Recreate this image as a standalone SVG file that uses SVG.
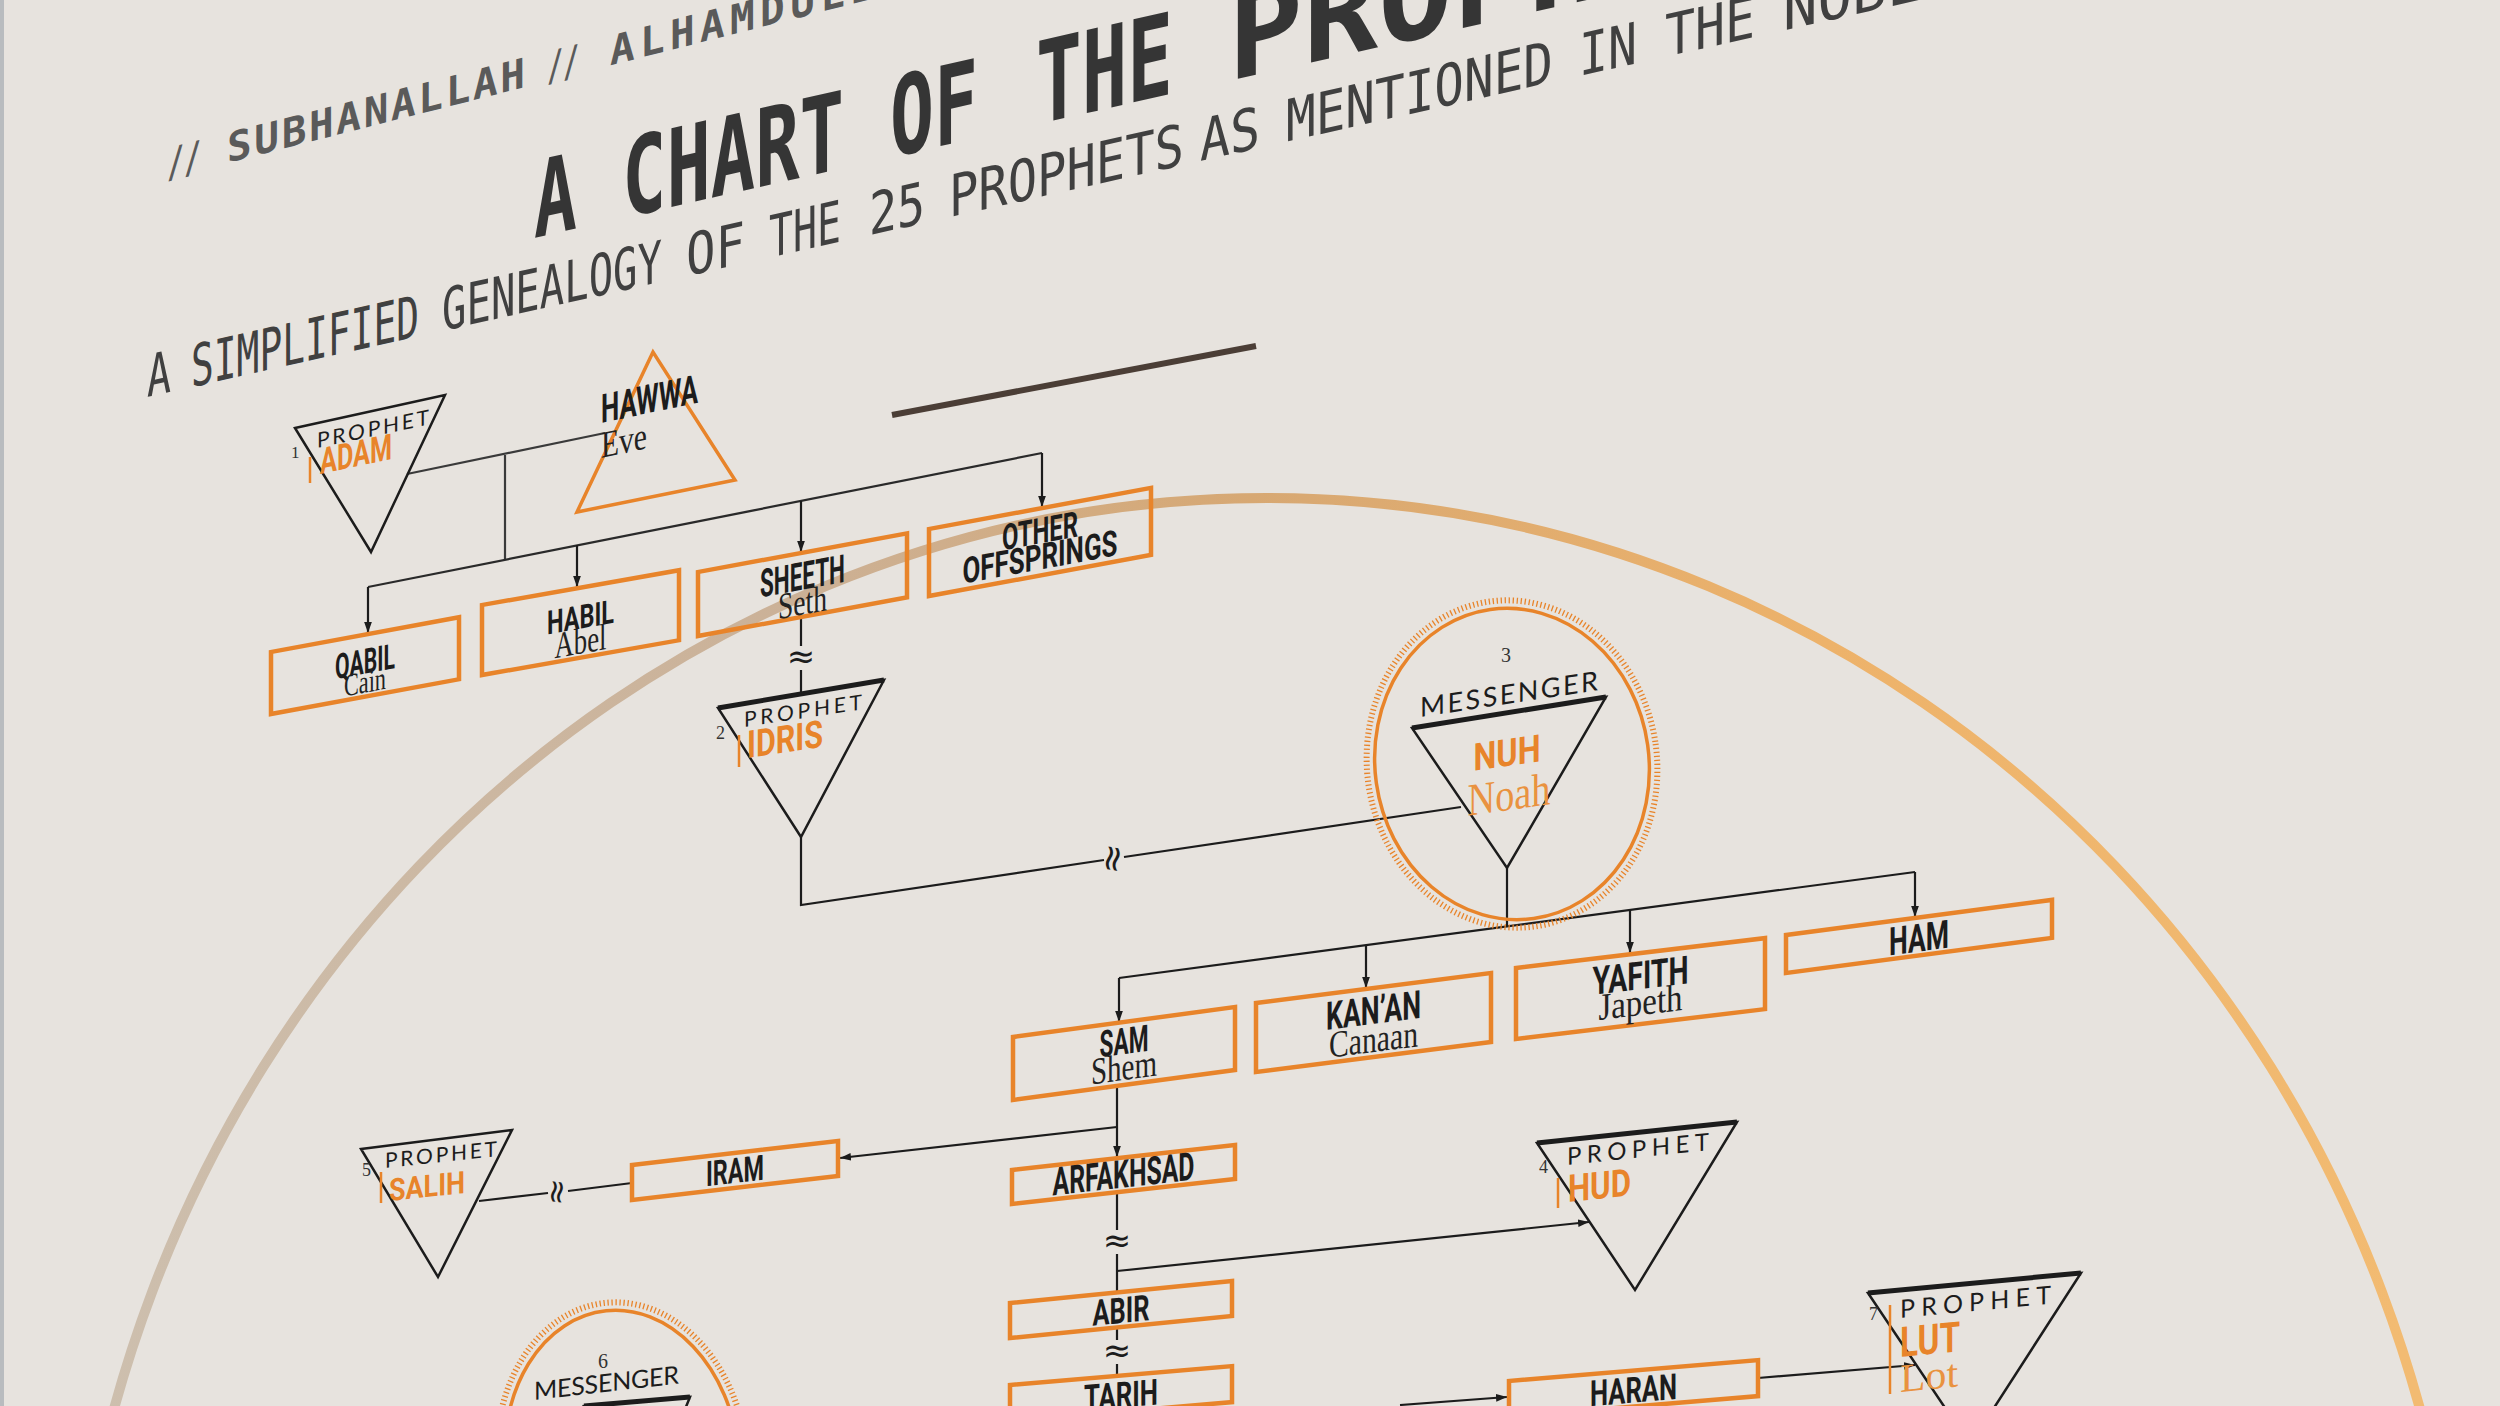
<svg xmlns="http://www.w3.org/2000/svg" width="2500" height="1406" viewBox="0 0 2500 1406">
<defs>
<linearGradient id="arcg" gradientUnits="userSpaceOnUse" x1="100" y1="0" x2="2400" y2="0">
<stop offset="0" stop-color="#cdbfae"/>
<stop offset="0.3" stop-color="#cbb197"/>
<stop offset="0.5" stop-color="#d7a873"/>
<stop offset="0.75" stop-color="#edb26a"/>
<stop offset="1" stop-color="#f2bb72"/>
</linearGradient>
<marker id="arr" viewBox="0 0 10 10" refX="10" refY="5" markerWidth="11" markerHeight="11" markerUnits="userSpaceOnUse" orient="auto"><path d="M0,1.5 L10,5 L0,8.5 z" fill="#1c1c1c"/></marker>
</defs>
<style>
.lbl{font-family:"Roboto","Liberation Sans",sans-serif;font-weight:700;fill:#1c1c1c;text-anchor:middle}
.ser{font-family:"Liberation Serif","DejaVu Serif",serif;fill:#222;text-anchor:middle}
.box{fill:none;stroke:#e8842a;stroke-width:4.5}
.tri{fill:none;stroke:#1c1c1c;stroke-width:2.5;stroke-linejoin:miter}
.top{stroke:#1c1c1c;stroke-width:5}
.ln{fill:none;stroke:#1c1c1c;stroke-width:2.2}
.pro{font-family:"Lato","Open Sans",sans-serif;fill:#1c1c1c}
.nm{font-family:"Roboto","Liberation Sans",sans-serif;font-weight:700;fill:#e8842a}
.nms{font-family:"Liberation Serif","DejaVu Serif",serif;fill:#e9923f}
.num{font-family:"Liberation Serif","DejaVu Serif",serif;fill:#333}
.sq{font-family:"DejaVu Sans",sans-serif;fill:#1c1c1c;text-anchor:middle;stroke:none}
.mono{font-family:"DejaVu Sans Mono",monospace}
.bar{stroke:#e8842a;stroke-width:2.5}
</style>
<rect x="0" y="0" width="2500" height="1406" fill="#e7e3de"/>
<rect x="0" y="0" width="4" height="1406" fill="#b9bcbf"/>
<ellipse id="arc" cx="1267" cy="1754" rx="1199" ry="1256" fill="none" stroke="url(#arcg)" stroke-width="10"/>

<g id="tagline" transform="translate(167,178) skewY(-14.25)" class="mono" font-weight="700" font-size="41" fill="#5a5a5a">
<text x="0" y="0" textLength="34" lengthAdjust="spacingAndGlyphs">//</text>
<text x="60" y="0" textLength="298" lengthAdjust="spacing">SUBHANALLAH</text>
<text x="380" y="0" textLength="32" lengthAdjust="spacingAndGlyphs">//</text>
<text x="443" y="0" textLength="385" lengthAdjust="spacing">ALHAMDULILLAH</text>
</g>
<g id="title" transform="translate(534,238) skewY(-12.74)" class="mono" font-weight="700" fill="#353535">
<text x="0" y="0" font-size="106" textLength="43" lengthAdjust="spacingAndGlyphs">A</text>
<text x="88" y="0" font-size="108" textLength="222" lengthAdjust="spacingAndGlyphs">CHART</text>
<text x="356" y="0" font-size="110" textLength="88" lengthAdjust="spacingAndGlyphs">OF</text>
<text x="502" y="0" font-size="114" textLength="137" lengthAdjust="spacingAndGlyphs">THE</text>
<text x="694" y="0" font-size="122" textLength="600" lengthAdjust="spacingAndGlyphs">PROPHETS</text>
</g>
<g id="subtitle" transform="translate(147,397) skewY(-12.63)" class="mono" fill="#404040" font-size="58">
<text x="0" y="0" textLength="24" lengthAdjust="spacingAndGlyphs">A</text>
<text x="44" y="0" textLength="228" lengthAdjust="spacingAndGlyphs">SIMPLIFIED</text>
<text x="295" y="0" textLength="220" lengthAdjust="spacingAndGlyphs">GENEALOGY</text>
<text x="539" y="0" textLength="59" lengthAdjust="spacingAndGlyphs">OF</text>
<text x="622" y="0" textLength="72" lengthAdjust="spacingAndGlyphs">THE</text>
<text x="722" y="0" textLength="56" lengthAdjust="spacingAndGlyphs">25</text>
<text x="802" y="0" textLength="235" lengthAdjust="spacingAndGlyphs">PROPHETS</text>
<text x="1053" y="0" textLength="60" lengthAdjust="spacingAndGlyphs">AS</text>
<text x="1139" y="0" textLength="267" lengthAdjust="spacingAndGlyphs">MENTIONED</text>
<text x="1432" y="0" textLength="58" lengthAdjust="spacingAndGlyphs">IN</text>
<text x="1518" y="0" textLength="90" lengthAdjust="spacingAndGlyphs">THE</text>
<text x="1636" y="0" textLength="380" lengthAdjust="spacingAndGlyphs">NOBLE QURAN</text>
</g>
<line id="separator" x1="892" y1="415" x2="1256" y2="346" stroke="#4b3e36" stroke-width="6"/>

<g id="connectors" class="ln">
<line x1="407" y1="474" x2="605" y2="433" stroke="#3a3a3a"/>
<line x1="505" y1="455" x2="505" y2="560" stroke="#3a3a3a"/>
<line x1="368" y1="587" x2="1042" y2="453" stroke="#2a2a2a"/>
<line x1="368" y1="587" x2="368" y2="633" marker-end="url(#arr)"/>
<line x1="577" y1="545" x2="577" y2="587" marker-end="url(#arr)"/>
<line x1="801" y1="501" x2="801" y2="552" marker-end="url(#arr)"/>
<line x1="1042" y1="453" x2="1042" y2="507" marker-end="url(#arr)"/>
<line x1="801" y1="617" x2="801" y2="646"/>
<line x1="801" y1="670" x2="801" y2="694"/>
<text class="sq" x="801" y="668" font-size="34">≈</text>
<polyline points="801,837 801,905 1104,860"/>
<line x1="1124" y1="857" x2="1461" y2="807"/>
<text class="sq" font-size="36" transform="translate(1114,859) rotate(-80)" x="0" y="10">≈</text>
<line x1="1507" y1="868" x2="1507" y2="926"/>
<line x1="1119" y1="978" x2="1915" y2="872"/>
<line x1="1119" y1="978" x2="1119" y2="1022" marker-end="url(#arr)"/>
<line x1="1366" y1="945" x2="1366" y2="988" marker-end="url(#arr)"/>
<line x1="1630" y1="910" x2="1630" y2="953" marker-end="url(#arr)"/>
<line x1="1915" y1="872" x2="1915" y2="917" marker-end="url(#arr)"/>
<line x1="1117" y1="1086" x2="1117" y2="1157" marker-end="url(#arr)"/>
<line x1="1117" y1="1127" x2="840" y2="1158" marker-end="url(#arr)"/>
<line x1="632" y1="1183" x2="568" y2="1191"/>
<line x1="548" y1="1193" x2="479" y2="1201"/>
<text class="sq" font-size="32" transform="translate(558,1192) rotate(-83)" x="0" y="9">≈</text>
<line x1="1117" y1="1193" x2="1117" y2="1230"/>
<text class="sq" x="1117" y="1252" font-size="34">≈</text>
<line x1="1117" y1="1254" x2="1117" y2="1292"/>
<line x1="1117" y1="1271" x2="1589" y2="1222" marker-end="url(#arr)"/>
<line x1="1117" y1="1328" x2="1117" y2="1340"/>
<text class="sq" x="1117" y="1362" font-size="34">≈</text>
<line x1="1117" y1="1364" x2="1117" y2="1375"/>
<line x1="1400" y1="1405" x2="1507" y2="1397" marker-end="url(#arr)"/>
<line x1="1758" y1="1378" x2="1915" y2="1365" marker-end="url(#arr)"/>
</g>

<g id="adam">
<polygon points="295,428 445,395 371,552" class="tri" stroke="#3a3a3a"/>
<text class="num" x="291" y="458" font-size="17">1</text>
<line x1="310" y1="457" x2="310" y2="483" class="bar" stroke="#e9a158"/>
<text class="pro" transform="translate(317,448) skewY(-11.86)" font-size="21" fill="#444" textLength="112" lengthAdjust="spacing">PROPHET</text>
<text class="nm" transform="translate(320,474) skewY(-11.86)" font-size="36" fill="#e99c50" textLength="72" lengthAdjust="spacingAndGlyphs">ADAM</text>
</g>
<g id="hawwa">
<polygon points="653,352 577,512 735,480" fill="none" stroke="#e8842a" stroke-width="3.5"/>
<text class="lbl" style="text-anchor:start" transform="translate(601,423) skewY(-11.86)" font-size="40" textLength="97" lengthAdjust="spacingAndGlyphs">HAWWA</text>
<text class="ser" style="text-anchor:start" transform="translate(601,458) skewY(-11.86)" font-size="38" textLength="46" lengthAdjust="spacingAndGlyphs">Eve</text>
</g>
<g id="qabil" transform="translate(271,652) skewY(-10.48)">
<rect x="0" y="0" width="188" height="62" class="box"/>
<text class="lbl" x="94" y="39" font-size="35" textLength="60" lengthAdjust="spacingAndGlyphs">QABIL</text>
<text class="ser" x="94" y="58" font-size="32" textLength="42" lengthAdjust="spacingAndGlyphs">Cain</text>
</g>
<g id="habil" transform="translate(482,605) skewY(-10)">
<rect x="0" y="0" width="197" height="70" class="box"/>
<text class="lbl" x="98.5" y="41" font-size="33" textLength="67" lengthAdjust="spacingAndGlyphs">HABIL</text>
<text class="ser" x="98.5" y="66" font-size="37" textLength="52" lengthAdjust="spacingAndGlyphs">Abel</text>
</g>
<g id="sheeth" transform="translate(698,572) skewY(-10.48)">
<rect x="0" y="0" width="209" height="64" class="box"/>
<text class="lbl" x="104.5" y="37" font-size="39" textLength="85" lengthAdjust="spacingAndGlyphs">SHEETH</text>
<text class="ser" x="104.5" y="62" font-size="37" textLength="49" lengthAdjust="spacingAndGlyphs">Seth</text>
</g>
<g id="other-offsprings" transform="translate(929,529) skewY(-10.48)">
<rect x="0" y="0" width="222" height="67" class="box"/>
<text class="lbl" x="111" y="35" font-size="36" textLength="76" lengthAdjust="spacingAndGlyphs">OTHER</text>
<text class="lbl" x="111" y="61" font-size="36" textLength="155" lengthAdjust="spacingAndGlyphs">OFFSPRINGS</text>
</g>
<g id="idris">
<polygon points="718,708 884,680 801,837" class="tri"/>
<line x1="718" y1="708" x2="884" y2="680" class="top"/>
<text class="num" x="716" y="739" font-size="18">2</text>
<line x1="739" y1="735" x2="739" y2="767" class="bar"/>
<text class="pro" transform="translate(744,727) skewY(-8.53)" font-size="21" textLength="118" lengthAdjust="spacing">PROPHET</text>
<text class="nm" transform="translate(747,758) skewY(-8.53)" font-size="38" textLength="76" lengthAdjust="spacingAndGlyphs">IDRIS</text>
</g>
<g id="nuh">
<ellipse cx="1512" cy="764" rx="137" ry="156" fill="none" stroke="#e8842a" stroke-width="3.5" transform="rotate(-8 1512 764)"/>
<ellipse cx="1512" cy="764" rx="145" ry="164" fill="none" stroke="#e8842a" stroke-width="6" stroke-dasharray="1.3 2.7" transform="rotate(-8 1512 764)"/>
<text class="num" x="1506" y="662" font-size="20" text-anchor="middle">3</text>
<text class="pro" transform="translate(1420,717) skewY(-8.53)" font-size="27" textLength="178" lengthAdjust="spacing">MESSENGER</text>
<polygon points="1412,728 1606,697 1507,868" class="tri"/>
<line x1="1412" y1="728" x2="1606" y2="697" class="top"/>
<text class="nm" text-anchor="middle" transform="translate(1507,766) skewY(-8)" font-size="38" textLength="67" lengthAdjust="spacingAndGlyphs">NUH</text>
<text class="nms" text-anchor="middle" transform="translate(1509,810) skewY(-8)" font-size="46" textLength="83" lengthAdjust="spacingAndGlyphs">Noah</text>
</g>
<g id="sam" transform="translate(1013,1037) skewY(-7.69)">
<rect x="0" y="0" width="222" height="63" class="box"/>
<text class="lbl" x="111" y="32" font-size="37" textLength="49" lengthAdjust="spacingAndGlyphs">SAM</text>
<text class="ser" x="111" y="58" font-size="38" textLength="66" lengthAdjust="spacingAndGlyphs">Shem</text>
</g>
<g id="kanan" transform="translate(1256,1003) skewY(-7.29)">
<rect x="0" y="0" width="235" height="69" class="box"/>
<text class="lbl" x="117.5" y="36" font-size="39" textLength="95" lengthAdjust="spacingAndGlyphs">KAN’AN</text>
<text class="ser" x="117.5" y="64" font-size="38" textLength="89" lengthAdjust="spacingAndGlyphs">Canaan</text>
</g>
<g id="yafith" transform="translate(1516,968) skewY(-6.84)">
<rect x="0" y="0" width="249" height="71" class="box"/>
<text class="lbl" x="124.5" y="36" font-size="39" textLength="96" lengthAdjust="spacingAndGlyphs">YAFITH</text>
<text class="ser" x="124.5" y="62" font-size="38" textLength="84" lengthAdjust="spacingAndGlyphs">Japeth</text>
</g>
<g id="ham" transform="translate(1786,935) skewY(-7.52)">
<rect x="0" y="0" width="266" height="38" class="box"/>
<text class="lbl" x="133" y="34" font-size="39" textLength="60" lengthAdjust="spacingAndGlyphs">HAM</text>
</g>
<g id="iram" transform="translate(632,1165) skewY(-6.67)">
<rect x="0" y="0" width="206" height="35" class="box"/>
<text class="lbl" x="103" y="30" font-size="35" textLength="58" lengthAdjust="spacingAndGlyphs">IRAM</text>
</g>
<g id="salih">
<polygon points="361,1149 512,1130 438,1277" class="tri" stroke="#4a4a4a" stroke-width="2"/>
<text class="num" x="362" y="1176" font-size="18" fill="#666">5</text>
<line x1="381" y1="1172" x2="381" y2="1203" class="bar" stroke="#eeae6c"/>
<text class="pro" transform="translate(385,1168) skewY(-6)" font-size="21" fill="#444" textLength="112" lengthAdjust="spacing">PROPHET</text>
<text class="nm" transform="translate(389,1201) skewY(-6)" font-size="31" fill="#eca662" textLength="76" lengthAdjust="spacingAndGlyphs">SALIH</text>
</g>
<g id="arfakhsad" transform="translate(1012,1170) skewY(-6.4)">
<rect x="0" y="0" width="223" height="34" class="box"/>
<text class="lbl" x="111.5" y="30" font-size="39" textLength="142" lengthAdjust="spacingAndGlyphs">ARFAKHSAD</text>
</g>
<g id="hud">
<polygon points="1537,1143 1737,1122 1635,1290" class="tri"/>
<line x1="1537" y1="1143" x2="1737" y2="1122" class="top"/>
<text class="num" x="1539" y="1173" font-size="18">4</text>
<line x1="1558" y1="1178" x2="1558" y2="1208" class="bar"/>
<text class="pro" transform="translate(1567,1165) skewY(-6)" font-size="24" textLength="142" lengthAdjust="spacing">PROPHET</text>
<text class="nm" transform="translate(1568,1202) skewY(-6)" font-size="38" textLength="63" lengthAdjust="spacingAndGlyphs">HUD</text>
</g>
<g id="abir" transform="translate(1010,1303) skewY(-5.65)">
<rect x="0" y="0" width="222" height="35" class="box"/>
<text class="lbl" x="111" y="31" font-size="36" textLength="57" lengthAdjust="spacingAndGlyphs">ABIR</text>
</g>
<g id="tarih" transform="translate(1010,1385) skewY(-4.85)">
<rect x="0" y="0" width="222" height="36" class="box"/>
<text class="lbl" x="111" y="32" font-size="36" textLength="74" lengthAdjust="spacingAndGlyphs">TARIH</text>
</g>
<g id="haran" transform="translate(1509,1381) skewY(-4.8)">
<rect x="0" y="0" width="249" height="36" class="box"/>
<text class="lbl" x="124.5" y="32" font-size="36" textLength="87" lengthAdjust="spacingAndGlyphs">HARAN</text>
</g>
<g id="lut">
<polygon points="1868,1293 2081,1273 1970,1445" class="tri"/>
<line x1="1868" y1="1293" x2="2081" y2="1273" class="top"/>
<text class="num" x="1869" y="1320" font-size="18">7</text>
<line x1="1890" y1="1305" x2="1890" y2="1394" class="bar" stroke-width="3"/>
<text class="pro" transform="translate(1900,1318) skewY(-5.4)" font-size="25" textLength="151" lengthAdjust="spacing">PROPHET</text>
<text class="nm" transform="translate(1900,1357) skewY(-5.4)" font-size="42" textLength="60" lengthAdjust="spacingAndGlyphs">LUT</text>
<text class="nms" transform="translate(1900,1392) skewY(-5.4)" font-size="40" textLength="58" lengthAdjust="spacingAndGlyphs">Lot</text>
</g>
<g id="messenger-6">
<ellipse cx="622" cy="1462" rx="117" ry="152" fill="none" stroke="#e8842a" stroke-width="3.5" transform="rotate(-6 622 1462)"/>
<ellipse cx="622" cy="1462" rx="125" ry="160" fill="none" stroke="#e8842a" stroke-width="6" stroke-dasharray="1.3 2.7" transform="rotate(-6 622 1462)"/>
<text class="num" x="603" y="1368" font-size="20" text-anchor="middle">6</text>
<text class="pro" transform="translate(534,1400) skewY(-6.5)" font-size="25" textLength="145" lengthAdjust="spacing">MESSENGER</text>
<polygon points="584,1406 690,1397 640,1520" class="tri"/>
<line x1="584" y1="1406" x2="690" y2="1397" class="top"/>
</g>
</svg>
